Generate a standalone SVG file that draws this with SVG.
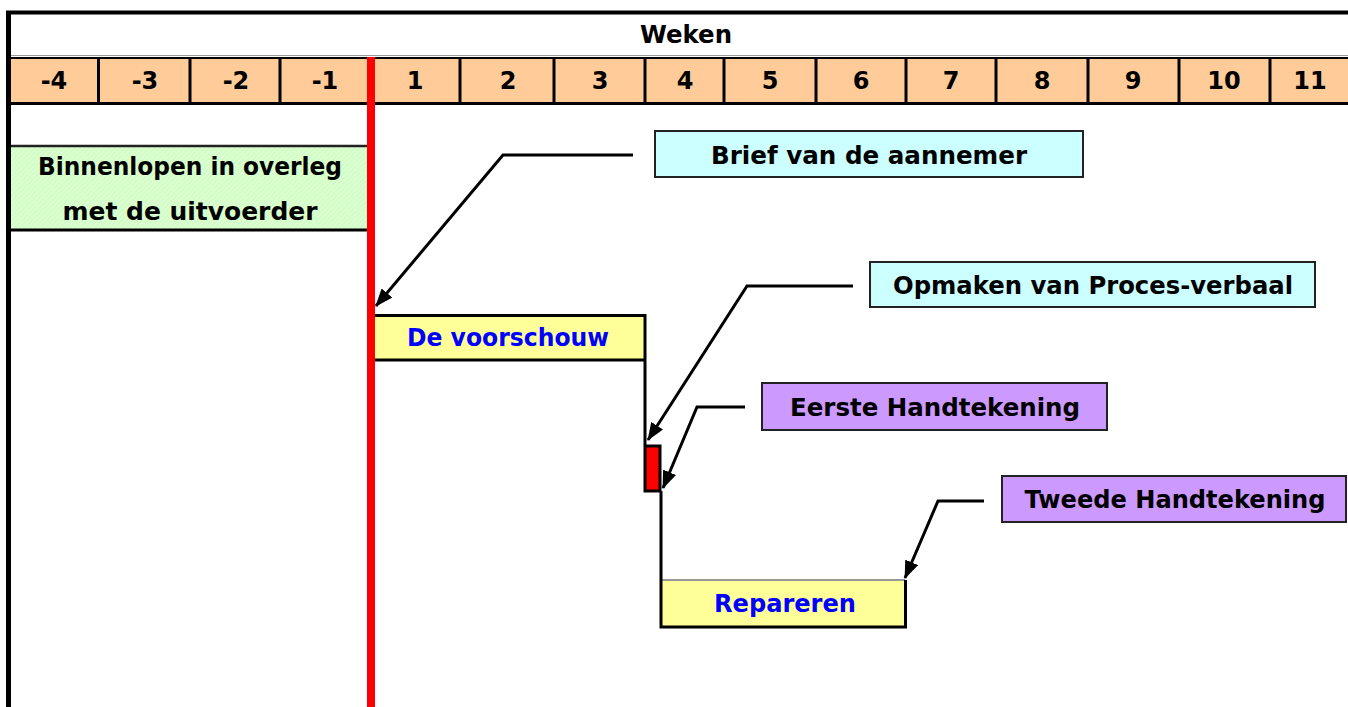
<svg xmlns="http://www.w3.org/2000/svg" width="1348" height="707" viewBox="0 0 1348 707">
<style>
text{font-family:"DejaVu Sans","Liberation Sans",sans-serif;font-weight:bold;text-anchor:middle;}
.wk{font-size:24px;fill:#000;}
.lbl{font-size:24px;fill:#000;}
.blue{font-size:24px;fill:#0000FF;}
.callout{stroke:#222;stroke-width:2;}
.conn{fill:none;stroke:#000;stroke-width:3;marker-end:url(#arr);}
.div{stroke:#000;stroke-width:3;}
</style>
<defs>
<marker id="arr" markerUnits="userSpaceOnUse" markerWidth="18" markerHeight="14" refX="17" refY="7" orient="auto">
<path d="M0,0 L18,7 L0,14 z" fill="#000"/>
</marker>
<pattern id="hatch" patternUnits="userSpaceOnUse" width="5" height="5">
<rect width="5" height="5" fill="#CCFFCC"/>
<path d="M0,5 L5,0 M-1,1 L1,-1 M4,6 L6,4" stroke="#EEFFCC" stroke-width="1.2"/>
</pattern>
</defs>

<g id="frame">
<rect x="9" y="12" width="1339" height="695" fill="#fff"/>
<line x1="8.5" y1="12" x2="8.5" y2="707" stroke="#000" stroke-width="5"/>
<line x1="6" y1="12.5" x2="1348" y2="12.5" stroke="#000" stroke-width="4"/>
<line x1="11" y1="55.5" x2="1348" y2="55.5" stroke="#999" stroke-width="1"/>
<text class="wk" x="686" y="43" textLength="92" lengthAdjust="spacingAndGlyphs">Weken</text>
</g>

<g id="weeks">
<rect x="11" y="57" width="1337" height="47" fill="#FFCC99"/>
<line x1="11" y1="58" x2="1348" y2="58" stroke="#000" stroke-width="2"/>
<line x1="11" y1="103.5" x2="1348" y2="103.5" stroke="#000" stroke-width="3"/>
<line class="div" x1="98.5" y1="57" x2="98.5" y2="104"/>
<line class="div" x1="190" y1="57" x2="190" y2="104"/>
<line class="div" x1="280" y1="57" x2="280" y2="104"/>
<line class="div" x1="460" y1="57" x2="460" y2="104"/>
<line class="div" x1="554" y1="57" x2="554" y2="104"/>
<line class="div" x1="645" y1="57" x2="645" y2="104"/>
<line class="div" x1="724" y1="57" x2="724" y2="104"/>
<line class="div" x1="816" y1="57" x2="816" y2="104"/>
<line class="div" x1="906" y1="57" x2="906" y2="104"/>
<line class="div" x1="996" y1="57" x2="996" y2="104"/>
<line class="div" x1="1088" y1="57" x2="1088" y2="104"/>
<line class="div" x1="1179" y1="57" x2="1179" y2="104"/>
<line class="div" x1="1270" y1="57" x2="1270" y2="104"/>
<text class="wk" x="54" y="89">-4</text>
<text class="wk" x="145" y="89">-3</text>
<text class="wk" x="236" y="89">-2</text>
<text class="wk" x="325" y="89">-1</text>
<text class="wk" x="415" y="89">1</text>
<text class="wk" x="508" y="89">2</text>
<text class="wk" x="600" y="89">3</text>
<text class="wk" x="685" y="89">4</text>
<text class="wk" x="770" y="89">5</text>
<text class="wk" x="861" y="89">6</text>
<text class="wk" x="951" y="89">7</text>
<text class="wk" x="1042" y="89">8</text>
<text class="wk" x="1133" y="89">9</text>
<text class="wk" x="1224" y="89">10</text>
<text class="wk" x="1310" y="89">11</text>
</g>

<g id="binnenlopen">
<rect x="11" y="146.5" width="358" height="83" fill="url(#hatch)"/>
<line x1="11" y1="146" x2="369" y2="146" stroke="#222" stroke-width="2.5"/>
<line x1="11" y1="230" x2="369" y2="230" stroke="#000" stroke-width="3"/>
<text class="lbl" x="190" y="175" textLength="304" lengthAdjust="spacingAndGlyphs">Binnenlopen in overleg</text>
<text class="lbl" x="190" y="220" textLength="255" lengthAdjust="spacingAndGlyphs">met de uitvoerder</text>
</g>

<g id="voorschouw">
<rect x="372" y="315.5" width="272" height="44" fill="#FFFF99"/>
<path d="M372,315.5 H645 V445 M372,360 H645" fill="none" stroke="#000" stroke-width="3"/>
<text class="blue" x="508" y="346" textLength="202" lengthAdjust="spacingAndGlyphs">De voorschouw</text>
</g>

<g id="procesverbaal-bar">
<rect x="645" y="446" width="15" height="45" fill="#FF0000" stroke="#000" stroke-width="3"/>
</g>

<g id="repareren">
<rect x="661" y="580" width="244" height="46" fill="#FFFF99"/>
<line x1="661" y1="580" x2="905" y2="580" stroke="#999" stroke-width="2"/>
<path d="M661,491 V627 H905.5 V580" fill="none" stroke="#000" stroke-width="3"/>
<text class="blue" x="785" y="612" textLength="142" lengthAdjust="spacingAndGlyphs">Repareren</text>
</g>

<g id="startline">
<line x1="371" y1="57" x2="371" y2="707" stroke="#FF0000" stroke-width="8"/>
</g>

<g id="brief">
<rect class="callout" x="655" y="131" width="428" height="46" fill="#CCFFFF"/>
<text class="lbl" x="869" y="164" textLength="316" lengthAdjust="spacingAndGlyphs">Brief van de aannemer</text>
</g>

<g id="opmaken">
<rect class="callout" x="870" y="262" width="445" height="45" fill="#CCFFFF"/>
<text class="lbl" x="1093" y="294" textLength="400" lengthAdjust="spacingAndGlyphs">Opmaken van Proces-verbaal</text>
</g>

<g id="eerste">
<rect class="callout" x="762" y="383" width="345" height="47" fill="#CC99FF"/>
<text class="lbl" x="935" y="416" textLength="290" lengthAdjust="spacingAndGlyphs">Eerste Handtekening</text>
</g>

<g id="tweede">
<rect class="callout" x="1002" y="476" width="344" height="46" fill="#CC99FF"/>
<text class="lbl" x="1175" y="508" textLength="301" lengthAdjust="spacingAndGlyphs">Tweede Handtekening</text>
</g>

<g id="connectors">
<path class="conn" d="M633,155 H503 L376,306"/>
<path class="conn" d="M853,286 H747 L648,440"/>
<path class="conn" d="M745,407 H697 L663,488"/>
<path class="conn" d="M984,501 H938 L905,578"/>
</g>
</svg>
